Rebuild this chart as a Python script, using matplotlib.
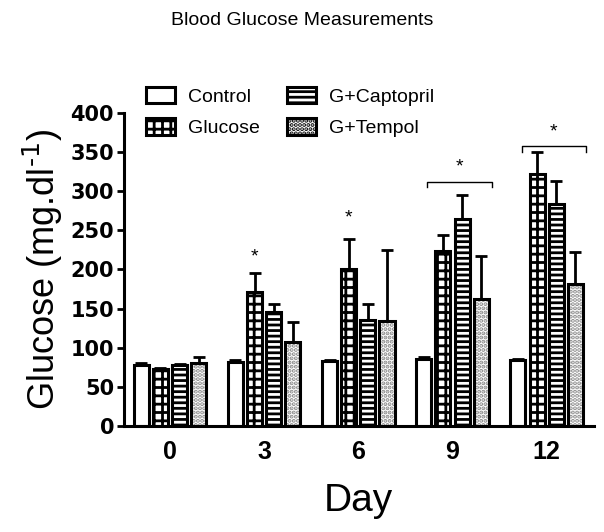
import matplotlib.pyplot as plt
import numpy as np

plt.rcParams['font.family'] = ['Liberation Sans', 'DejaVu Sans']
plt.rcParams['hatch.linewidth'] = 2.0

days = [0, 3, 6, 9, 12]
groups = ["Control", "Glucose", "G+Captopril", "G+Tempol"]
control = [78, 82, 83, 86, 84]
control_err = [2, 2, 2, 2, 2]
glucose = [73, 171, 201, 224, 322]
glucose_err = [1, 25, 38, 20, 28]
captopril = [78, 146, 135, 265, 284]
captopril_err = [1, 10, 21, 30, 29]
tempol = [81, 107, 134, 162, 181]
tempol_err = [7, 26, 91, 55, 41]

means = [control, glucose, captopril, tempol]
errs = [control_err, glucose_err, captopril_err, tempol_err]
hatches = [None, "++", "---", "...."]
hatch_cols = ["white", "black", "black", "#888888"]

fig = plt.figure(figsize=(6.04, 5.32), dpi=100)
ax = fig.add_axes([0.205, 0.199, 0.778, 0.589])

x = np.array(days, dtype=float)
width = 0.48
pitch = 0.61
handles = []
for i in range(4):
    pos = x + (i - 1.5) * pitch
    # hatch layer then black outline on top
    ax.bar(pos, means[i], width, color="white", edgecolor=hatch_cols[i],
           hatch=hatches[i], linewidth=0, zorder=2)
    ax.errorbar(pos, means[i], yerr=[np.zeros(5), errs[i]], fmt="none",
                ecolor="black", elinewidth=2, capsize=4, capthick=2, zorder=1)
    ax.bar(pos, means[i], width, color="none", edgecolor="black",
           linewidth=2.2, zorder=3)
    h = ax.bar([0], [0], 0, color="white", edgecolor="black", hatch=hatches[i],
               linewidth=2.2)
    handles.append(h)

# significance markers
for d, y in [(3, 205), (6, 255)]:
    ax.text(d - 0.5 * pitch, y, "*", ha="center", va="bottom", fontsize=14)
for d, y in [(9, 312), (12, 357)]:
    x0, x1 = d - 0.8, d + 1.25
    ax.plot([x0, x0, x1, x1], [y - 7, y, y, y - 7], color="black", lw=1)
    ax.text((x0 + x1) / 2, y + 8, "*", ha="center", va="bottom", fontsize=14)

ax.set_xlim(-1.47, 13.5)
ax.set_ylim(0, 400)
ax.set_yticks(range(0, 401, 50))
ax.set_xticks(days)
ax.set_xticklabels([str(d) for d in days])
ax.tick_params(axis="x", length=0, pad=10)
ax.tick_params(axis="y", length=5, width=2, pad=2)
for lab in ax.get_xticklabels():
    lab.set_fontsize(18)
    lab.set_fontweight("bold")
for lab in ax.get_yticklabels():
    lab.set_fontsize(15)
    lab.set_fontweight("bold")
    lab.set_family("DejaVu Sans")
for s in ["top", "right"]:
    ax.spines[s].set_visible(False)
for s in ["left", "bottom"]:
    ax.spines[s].set_linewidth(2.2)

ax.set_ylabel(r"Glucose (mg.dl$^{\text{-1}}$)", fontsize=26, labelpad=4)
ax.set_xlabel("Day", fontsize=28, labelpad=14)
fig.suptitle("Blood Glucose Measurements", fontsize=14, y=0.978)

ax.legend(handles, groups, ncol=2, frameon=False, loc="upper left",
          bbox_to_anchor=(146 / 604, 1 - 87 / 532),
          bbox_transform=fig.transFigure, borderpad=0, borderaxespad=0,
          fontsize=14, handlelength=1.5, handleheight=0.9,
          handletextpad=0.65, columnspacing=1.4, labelspacing=0.65)

fig.savefig("out.png", dpi=100)
